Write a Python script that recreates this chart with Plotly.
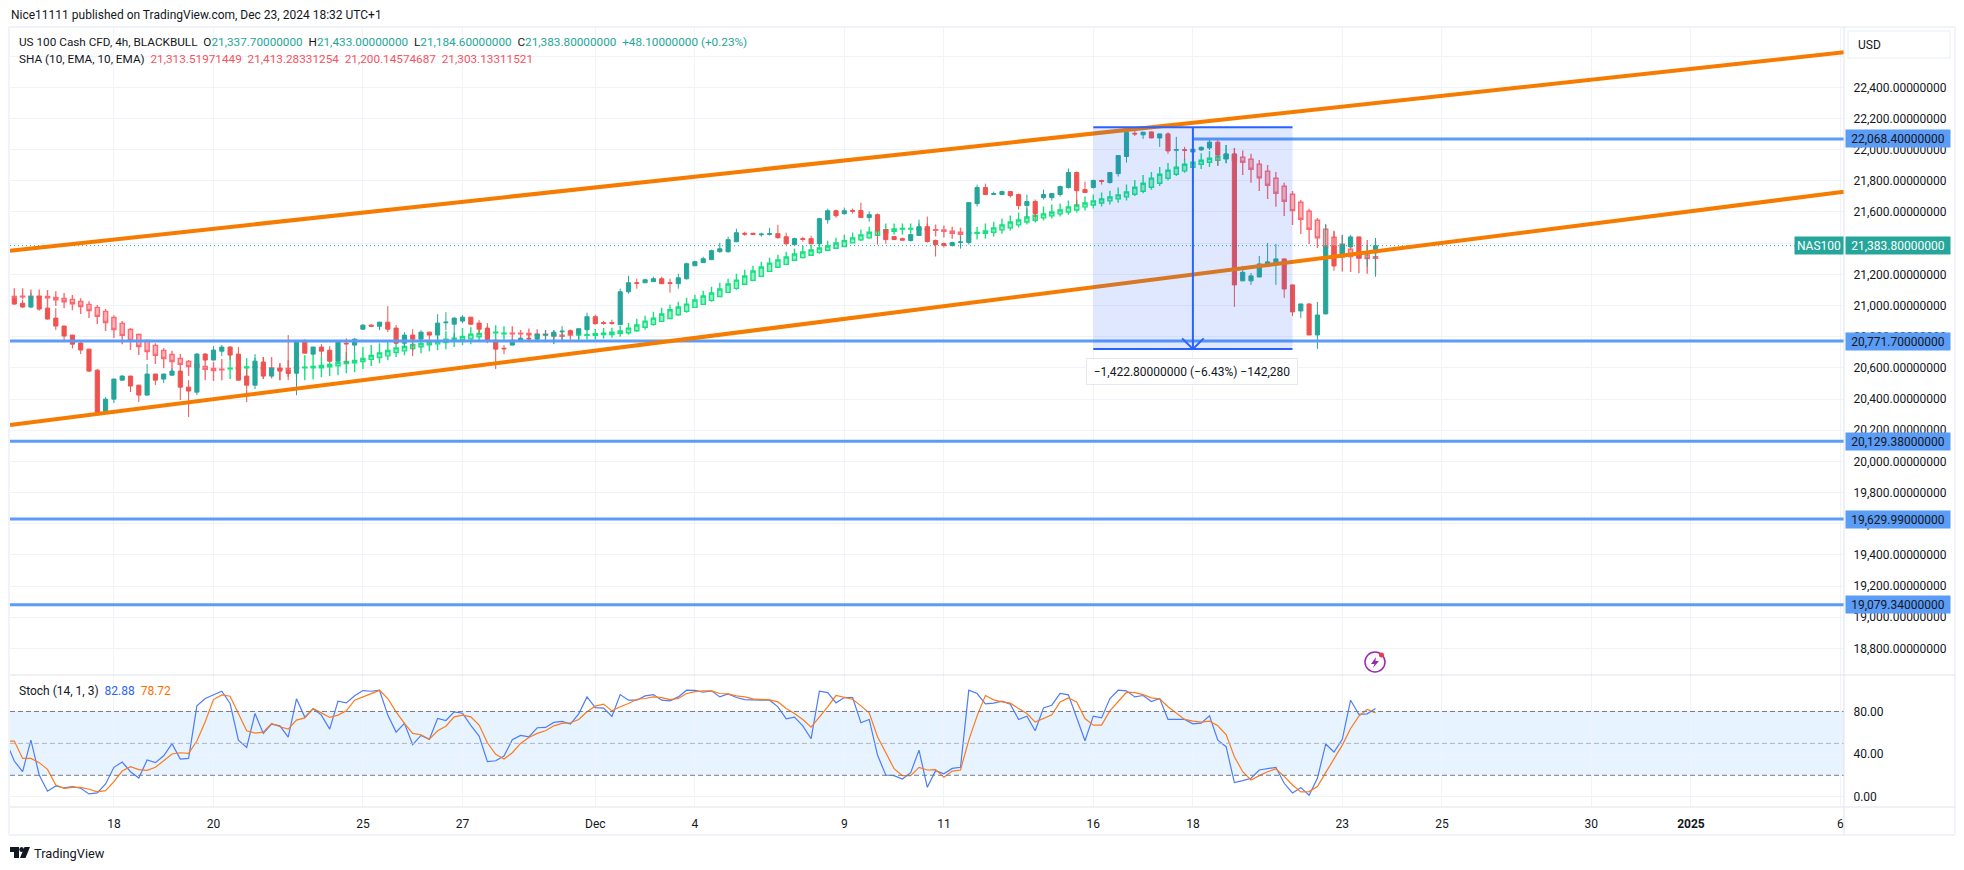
import plotly.graph_objects as go

W, H = 1964, 870

OPEN = [21047,21015,20990,21060,20983,20919,20868,20810,20759,20720,
20585,20316,20399,20521,20547,20489,20425,20560,20528,20553,
20579,20476,20444,20688,20650,20707,20733,20688,20547,20489,
20637,20547,20598,20585,20566,20765,20688,20733,20713,20643,
20758,20746,20848,20874,20867,20893,20855,20758,20810,20784,
20829,20810,20889,20880,20900,20925,20887,20855,20778,20726,
20746,20771,20790,20784,20810,20803,20831,20838,20819,20845,
20928,20890,20890,20877,21088,21146,21146,21153,21172,21146,
21140,21172,21255,21275,21294,21345,21345,21409,21463,21463,
21454,21456,21461,21441,21390,21429,21429,21396,21550,21608,
21589,21609,21609,21564,21583,21487,21442,21429,21417,21449,
21506,21417,21397,21385,21404,21404,21654,21757,21712,21712,
21731,21712,21641,21667,21692,21692,21712,21757,21853,21744,
21757,21802,21789,21846,21956,22105,22095,22114,22075,22101,
21996,22000,21985,21998,22011,22048,21941,21973,21158,21158,
21183,21254,21273,21299,21132,20965,21010,20811,20946,21382,
21312,21376,21440,21340,21337.7]
HIGH = [21056,21035,21084,21060,20985,20983,20870,20812,20765,20722,
20592,20412,20530,20553,20549,20491,20624,20562,20562,20598,
20585,20521,20695,20695,20739,20746,20739,20733,20598,20688,
20669,20602,20630,20810,20771,20784,20735,20752,20739,20778,
20790,20790,20880,20880,20895,20996,20874,20829,20848,20842,
20831,20944,20957,20925,20938,20927,20906,20887,20780,20746,
20780,20792,20816,20820,20842,20842,20867,20845,20853,20954,
20941,20902,20909,21108,21191,21172,21172,21185,21185,21172,
21204,21275,21287,21313,21358,21403,21441,21493,21473,21467,
21467,21499,21518,21467,21435,21441,21448,21563,21621,21615,
21628,21622,21660,21603,21590,21489,21444,21436,21457,21551,
21571,21423,21404,21410,21442,21662,21776,21782,21731,21737,
21733,21718,21712,21680,21744,21720,21769,21879,21859,21795,
21808,21808,21855,21964,22116,22144,22114,22116,22103,22112,
22082,22018,22005,22020,22062,22062,22030,22011,21254,21209,
21318,21402,21395,21301,21134,21012,21014,21023,21523,21474,
21453,21453,21442,21389,21433]
LOW = [21005,20985,20983,20966,20910,20842,20778,20724,20688,20573,
20297,20303,20374,20519,20444,20380,20423,20489,20502,20551,
20393,20284,20425,20648,20648,20675,20650,20519,20380,20464,
20528,20545,20521,20521,20425,20692,20686,20669,20641,20641,
20630,20701,20846,20865,20842,20829,20756,20731,20675,20778,
20756,20778,20842,20778,20887,20874,20816,20758,20592,20688,
20744,20769,20765,20765,20765,20752,20778,20802,20780,20840,
20877,20877,20877,20875,21076,21108,21144,21151,21138,21082,
21108,21165,21253,21273,21292,21339,21339,21407,21448,21454,
21441,21448,21429,21390,21388,21409,21394,21390,21525,21563,
21583,21590,21562,21538,21391,21397,21421,21417,21410,21447,
21404,21314,21372,21378,21365,21391,21635,21710,21710,21710,
21692,21615,21568,21551,21680,21673,21699,21750,21637,21723,
21750,21776,21782,21827,21917,22088,22069,22073,22018,21973,
21934,21934,21960,21992,21998,21896,21913,20991,21156,21132,
21181,21250,21132,21049,20933,20920,20809,20721,20944,21222,
21310,21374,21303,21250,21184.6]
CLOSE = [21009,20990,21056,20977,20913,20868,20804,20752,20714,20579,
20316,20399,20528,20547,20483,20425,20560,20521,20560,20579,
20476,20451,20688,20650,20714,20733,20682,20521,20489,20643,
20547,20598,20579,20564,20765,20694,20733,20707,20643,20765,
20754,20784,20874,20867,20893,20848,20758,20810,20784,20829,
20810,20887,20893,20919,20925,20880,20848,20771,20720,20722,
20778,20790,20786,20816,20814,20829,20835,20819,20851,20928,
20883,20885,20885,21088,21146,21142,21165,21172,21140,21142,
21178,21268,21281,21300,21352,21364,21422,21467,21458,21456,
21458,21461,21435,21396,21429,21424,21396,21557,21608,21576,
21608,21605,21564,21583,21481,21423,21423,21419,21455,21506,
21410,21391,21385,21404,21408,21660,21757,21712,21718,21731,
21705,21641,21667,21590,21712,21718,21763,21853,21737,21725,
21802,21797,21853,21962,22110,22101,22112,22075,22101,21992,
22000,21996,22003,22015,22048,21966,21973,21132,21213,21190,
21267,21280,21299,21106,20959,21010,20811,20939,21376,21254,
21389,21440,21305,21344,21383.8]

SHA_OPEN = [21058,21060,21060,21058,21058,21052,21045,21039,21026,21007,
20988,20962,20923,20885,20846,20814,20776,20744,20712,20686,
20660,20641,20624,20609,20596,20592,20594,20596,20600,20603,
20603,20600,20596,20596,20598,20600,20600,20600,20607,20613,
20628,20632,20641,20654,20666,20677,20698,20709,20724,20735,
20748,20754,20763,20771,20780,20786,20799,20816,20825,20818,
20822,20822,20820,20816,20816,20812,20810,20815,20811,20809,
20808,20813,20813,20821,20825,20838,20860,20879,20898,20917,
20941,20962,20988,21007,21033,21058,21084,21110,21136,21161,
21187,21219,21245,21264,21290,21307,21322,21341,21354,21367,
21379,21402,21421,21434,21451,21466,21476,21490,21490,21489,
21491,21487,21485,21476,21470,21462,21463,21464,21470,21485,
21498,21517,21536,21547,21562,21575,21588,21600,21613,21633,
21645,21658,21671,21684,21697,21714,21733,21759,21784,21816,
21842,21864,21887,21906,21919,21932,21943,21966,21951,21938,
21906,21861,21816,21765,21714,21662,21605,21547,21489,21438,
21393,21361,21335,21325,21313.5]
SHA_HIGH = [21110,21110,21103,21103,21099,21092,21080,21067,21047,21028,
21003,20977,20938,20900,20855,20821,20782,20757,20725,20710,
20688,20650,20658,20650,20639,20656,20682,20660,20662,20665,
20669,20669,20630,20649,20649,20681,20688,20669,20643,20643,
20701,20701,20733,20746,20758,20771,20778,20756,20771,20790,
20778,20803,20835,20823,20855,20861,20861,20867,20874,20867,
20867,20842,20852,20848,20842,20840,20840,20845,20845,20845,
20849,20855,20857,20870,20887,20915,20934,20960,20986,21005,
21024,21050,21069,21095,21121,21146,21172,21204,21230,21255,
21281,21307,21326,21345,21364,21384,21390,21401,21416,21435,
21454,21468,21487,21506,21513,21526,21526,21526,21526,21526,
21526,21519,21513,21506,21500,21496,21506,21526,21538,21558,
21577,21596,21622,21615,21635,21648,21654,21673,21680,21699,
21712,21725,21737,21757,21776,21806,21838,21857,21889,21915,
21934,21941,21966,21977,21992,21998,22030,22011,21994,21973,
21934,21902,21857,21787,21735,21677,21620,21562,21517,21479,
21453,21421,21440,21421,21413.3]
SHA_LOW = [21047,21040,21040,21040,20983,20996,20983,20970,20945,20919,
20881,20836,20791,20752,20714,20682,20650,20624,20598,20579,
20547,20547,20521,20521,20515,20521,20528,20525,20521,20530,
20530,20532,20521,20542,20542,20521,20527,20540,20547,20553,
20566,20572,20592,20611,20630,20649,20669,20681,20707,20694,
20707,20713,20720,20733,20746,20752,20778,20778,20771,20771,
20771,20765,20765,20765,20765,20756,20765,20780,20780,20780,
20780,20789,20793,20800,20813,20832,20845,20870,20894,20913,
20934,20954,20984,21005,21024,21054,21080,21101,21131,21157,
21183,21215,21240,21260,21285,21302,21317,21332,21349,21362,
21375,21397,21414,21429,21444,21444,21455,21455,21461,21470,
21470,21442,21436,21429,21423,21423,21423,21429,21442,21461,
21481,21500,21519,21532,21545,21558,21571,21583,21596,21609,
21622,21635,21648,21660,21673,21703,21720,21742,21767,21802,
21831,21851,21870,21876,21889,21896,21913,21880,21838,21787,
21735,21684,21633,21575,21517,21459,21395,21369,21312,21250,
21218,21215,21207,21203,21200.1]
SHA_CLOSE = [21054,21056,21056,21054,21050,21037,21024,21011,20994,20968,
20930,20891,20846,20808,20776,20737,20705,20680,20660,20641,
20622,20609,20603,20590,20583,20588,20598,20600,20605,20607,
20596,20590,20590,20592,20602,20604,20609,20615,20621,20634,
20641,20647,20660,20679,20696,20711,20728,20737,20750,20756,
20765,20771,20784,20790,20801,20816,20820,20827,20829,20822,
20818,20818,20812,20810,20810,20805,20803,20810,20815,20813,
20819,20823,20828,20836,20855,20875,20900,20919,20945,20973,
20990,21009,21035,21061,21080,21106,21138,21163,21189,21221,
21247,21272,21292,21311,21330,21343,21356,21369,21382,21401,
21416,21434,21453,21470,21479,21487,21491,21494,21494,21493,
21485,21483,21476,21464,21457,21466,21468,21479,21498,21517,
21536,21549,21568,21579,21588,21600,21613,21633,21645,21658,
21671,21684,21697,21710,21729,21759,21784,21817,21842,21868,
21887,21906,21919,21932,21945,21958,21968,21934,21919,21874,
21819,21772,21720,21669,21609,21553,21489,21434,21376,21318,
21312,21314,21305,21301,21303.1]

STOCH_K = [52.0,33.4,23.4,53.1,20.3,5.0,10.0,8.1,9.4,7.8,2.5,3.4,11.9,27.5,32.5,23.4,17.5,34.4,31.9,38.4,49.7,
35.3,35.9,85.3,92.2,95.9,99.0,87.5,53.1,46.2,78.1,59.4,68.1,66.5,55.9,91.9,74.7,82.5,76.6,63.4,89.7,
88.1,94.7,99.7,99.0,100.0,76.6,60.6,68.8,48.8,57.5,53.8,73.4,71.5,79.7,78.4,66.9,56.9,32.8,33.7,38.1,
53.4,57.5,56.2,64.7,65.0,69.7,70.6,68.1,77.8,93.7,83.7,83.1,75.3,95.9,90.6,90.6,94.7,95.9,90.6,90.0,
93.7,100.0,99.9,98.1,99.4,93.7,96.5,93.1,91.2,90.6,90.6,90.6,84.4,73.1,74.7,66.5,54.4,99.0,97.8,88.1,
93.1,93.1,69.4,72.5,39.0,20.3,19.7,16.5,22.5,43.7,8.7,24.4,21.5,26.5,27.5,100.0,96.9,87.2,87.8,89.7,
86.9,72.5,75.6,61.9,83.4,85.9,96.9,95.6,74.4,52.5,75.6,74.0,92.2,100.0,99.4,93.7,95.0,89.4,92.2,72.5,
72.5,72.5,68.4,69.0,75.9,53.1,46.9,13.1,15.0,17.2,25.0,26.2,27.5,12.5,3.4,8.4,1.2,17.2,49.4,41.9,
53.8,90.6,77.2,77.8,82.88]
STOCH_D = [52.2,52.2,35.9,35.9,31.9,25.6,10.9,7.8,8.7,8.7,6.9,4.4,5.6,14.0,24.0,28.1,25.3,24.7,27.5,33.7,40.0,
41.2,40.6,52.2,70.3,91.2,95.6,94.4,78.7,61.9,59.7,60.6,68.8,65.6,63.4,71.9,74.0,82.8,78.7,74.4,76.6,
80.6,90.6,93.7,96.9,99.9,92.2,79.7,68.8,59.4,58.1,53.8,61.9,66.2,75.0,76.6,75.0,67.2,50.6,39.7,35.3,
41.2,50.0,55.6,59.4,61.9,66.5,68.8,69.4,72.5,79.7,85.0,86.9,80.6,84.4,87.5,91.5,92.2,93.7,93.1,91.2,
92.2,96.9,98.7,99.4,99.4,96.9,96.5,94.7,93.7,91.9,91.2,90.9,89.0,82.8,78.1,72.5,65.3,74.4,84.4,95.0,
93.1,91.5,85.3,78.7,56.2,40.6,26.2,19.7,19.7,27.5,25.0,25.3,18.1,24.0,25.0,53.1,75.9,95.0,90.9,89.0,
87.8,82.8,78.1,70.0,73.4,76.9,89.0,92.8,89.0,73.4,67.2,67.2,80.6,89.4,98.1,97.8,95.9,92.8,91.9,84.4,
78.7,72.5,70.9,70.0,70.9,66.5,58.4,37.5,23.4,15.6,19.7,23.4,25.9,19.0,10.9,4.4,4.7,9.4,22.5,35.9,
48.4,64.0,75.6,82.0,78.72]

TICK_POS = [12, 24, 42, 54, 70, 82, 100, 112, 130, 142, 160, 172, 190, 202, 220]
TICK_TEXT = ["18", "20", "25", "27", "Dec", "4", "9", "11", "16", "18", "23", "25", "30", "<b>2025</b>", "6"]
PRICE_TICKS = [18800 + 200 * i for i in range(20)]
STOCH_TICKS = [0, 40, 80]

LAST_PRICE = 21383.8
LEVELS = [20771.7, 20129.38, 19629.99, 19079.34]
RAY_LEVEL = 22068.4
RAY_START = 142
CHANNEL_UPPER = (21351, 22625)
CHANNEL_LOWER = (20233, 21730)
MEASURE_X = (130, 154)
MEASURE_MID = 142
MEASURE_PRICE = (22144, 20721.2)

assert all(len(a) == 165 for a in (OPEN, HIGH, LOW, CLOSE, SHA_OPEN, SHA_HIGH, SHA_LOW, SHA_CLOSE))
assert len(STOCH_K) == 166 and len(STOCH_D) == 166

FONT = "Roboto, sans-serif"
INK = "#131722"
TEAL = "#26A69A"
RED = "#EF5350"
BLUE = "#5B9CF6"
ORANGE = "#F57C00"
DEEP = "#2962FF"
GRID = "#F0F3FA"
SEP = "#E0E3EB"

X_L, X_R = 10, 1844
Y_T, Y_M, Y_B = 27, 675, 807
IDX_L = (X_L - 14.3) / 8.3
IDX_R = (X_R - 14.3) / 8.3


def px(v):
    return v / W


def py(v):
    return 1 - v / H


idx = list(range(165))
fig = go.Figure()
fig.add_trace(go.Candlestick(
    x=idx, open=SHA_OPEN, high=SHA_HIGH, low=SHA_LOW, close=SHA_CLOSE, whiskerwidth=0,
    increasing=dict(line=dict(color="#16E07F", width=1.4), fillcolor="#96F0C4"),
    decreasing=dict(line=dict(color="#FB6A73", width=1.4), fillcolor="#FFB3B8"),
    hoverinfo="skip", showlegend=False, xaxis="x", yaxis="y"))
fig.add_trace(go.Candlestick(
    x=idx, open=OPEN, high=HIGH, low=LOW, close=CLOSE, whiskerwidth=0,
    increasing=dict(line=dict(color=TEAL, width=1), fillcolor=TEAL),
    decreasing=dict(line=dict(color=RED, width=1), fillcolor=RED),
    hoverinfo="skip", showlegend=False, xaxis="x", yaxis="y"))
stoch_x = list(range(-1, 165))
fig.add_trace(go.Scatter(x=stoch_x, y=STOCH_K, mode="lines", line=dict(color="#4C7DF7", width=1.2),
                         hoverinfo="skip", showlegend=False, xaxis="x2", yaxis="y2"))
fig.add_trace(go.Scatter(x=stoch_x, y=STOCH_D, mode="lines", line=dict(color="#FF7A1A", width=1.2),
                         hoverinfo="skip", showlegend=False, xaxis="x2", yaxis="y2"))

shapes = []
shapes.append(dict(type="rect", xref="x2", yref="y2", x0=IDX_L, x1=IDX_R, y0=20, y1=80,
                   fillcolor="rgba(33,150,243,0.11)", line_width=0, layer="below"))
for lvl, col in ((80, "#787B86"), (50, "#B2B5BE"), (20, "#787B86")):
    shapes.append(dict(type="line", xref="x2", yref="y2", x0=IDX_L, x1=IDX_R, y0=lvl, y1=lvl,
                       line=dict(color=col, width=1, dash="5px,3px")))
shapes.append(dict(type="line", xref="paper", yref="y", x0=px(X_L), x1=px(1796), y0=LAST_PRICE, y1=LAST_PRICE,
                   line=dict(color=TEAL, width=1, dash="1px,3px")))
for lvl in LEVELS:
    shapes.append(dict(type="line", xref="x", yref="y", x0=IDX_L, x1=IDX_R, y0=lvl, y1=lvl,
                       line=dict(color=BLUE, width=3)))
shapes.append(dict(type="line", xref="x", yref="y", x0=RAY_START, x1=IDX_R, y0=RAY_LEVEL, y1=RAY_LEVEL,
                   line=dict(color=BLUE, width=3)))
for a, b in (CHANNEL_UPPER, CHANNEL_LOWER):
    shapes.append(dict(type="line", xref="x", yref="y", x0=IDX_L, x1=IDX_R, y0=a, y1=b,
                       line=dict(color=ORANGE, width=4)))
shapes.append(dict(type="rect", xref="x", yref="y", x0=MEASURE_X[0], x1=MEASURE_X[1],
                   y0=MEASURE_PRICE[1], y1=MEASURE_PRICE[0], fillcolor="rgba(41,98,255,0.15)", line_width=0))
for p in MEASURE_PRICE:
    shapes.append(dict(type="line", xref="x", yref="y", x0=MEASURE_X[0], x1=MEASURE_X[1], y0=p, y1=p,
                       line=dict(color=DEEP, width=2)))
shapes.append(dict(type="line", xref="x", yref="y", x0=MEASURE_MID, x1=MEASURE_MID,
                   y0=MEASURE_PRICE[0], y1=MEASURE_PRICE[1], line=dict(color=DEEP, width=2)))
for side in (-1.3, 1.3):
    shapes.append(dict(type="line", xref="x", yref="y", x0=MEASURE_MID + side, x1=MEASURE_MID,
                       y0=MEASURE_PRICE[1] + 68, y1=MEASURE_PRICE[1], line=dict(color=DEEP, width=2)))
frame = "#F0F3FA"
for x0, x1, y0, y1, c, w in ((9, 9, 27, 835, frame, 2), (1955, 1955, 27, 835, frame, 2),
                             (9, 1955, 27, 27, frame, 2), (9, 1955, 835, 835, frame, 2),
                             (10, 1955, Y_M, Y_M, SEP, 1), (10, 1955, Y_B, Y_B, SEP, 1),
                             (X_R, X_R, 27, 835, SEP, 1)):
    shapes.append(dict(type="line", xref="paper", yref="paper", x0=px(x0), x1=px(x1), y0=py(y0), y1=py(y1),
                       line=dict(color=c, width=w)))


def pth(d, fill=None, line=None, lw=1.5):
    return dict(type="path", xref="paper", yref="paper", path=d, fillcolor=fill or "rgba(0,0,0,0)",
                line=dict(color=line or "rgba(0,0,0,0)", width=lw if line else 0))


def P(*pts):
    return "M " + " L ".join(f"{px(a):.6f},{py(b):.6f}" for a, b in pts) + " Z"


shapes.append(dict(type="rect", xref="paper", yref="paper", x0=px(1848), x1=px(1950), y0=py(58), y1=py(31),
                   fillcolor="white", line=dict(color="#F0F3FA", width=1.5)))
shapes.append(pth(P((10, 847), (19, 847), (19, 858), (14, 858), (14, 852), (10, 852)), fill="#131722"))
shapes.append(pth(P((30, 847), (25.5, 858), (20, 858), (24.5, 847)), fill="#131722"))
shapes.append(dict(type="circle", xref="paper", yref="paper", x0=px(19.3), x1=px(24), y0=py(852), y1=py(847),
                   fillcolor="#131722", line_width=0))
shapes.append(dict(type="circle", xref="paper", yref="paper", x0=px(1365), x1=px(1385), y0=py(672), y1=py(652),
                   fillcolor="white", line=dict(color="#9C27B0", width=1.5)))
shapes.append(pth(P((1376, 657), (1371, 664), (1374.5, 664), (1373, 668), (1379, 661), (1375.5, 661)), fill="#9C27B0"))
shapes.append(dict(type="circle", xref="paper", yref="paper", x0=px(1379), x1=px(1384), y0=py(657.5), y1=py(652.5),
                   fillcolor="#F23645", line_width=0))


def label(x, y, text, size=12, color=INK, anchor="left", **kw):
    return dict(xref="paper", yref="paper", x=px(x), y=py(y), text=text, showarrow=False, xanchor=anchor,
                yanchor="middle", font=dict(family=FONT, size=size, color=color), borderpad=0, **kw)


def badge(value, text, bg=BLUE, color=INK):
    return dict(xref="paper", yref="y", x=px(1845), y=value, text=text, showarrow=False, xanchor="left",
                yanchor="middle", width=104, height=17, align="center", bgcolor=bg, borderpad=0,
                font=dict(family=FONT, size=12, color=color))


def money(v):
    return f"{v:,.8f}"


def sp(color, t):
    return f'<span style="color:{color}">{t}</span>'


NB = "\u00a0"
SHA_VALUES = ["21,313.51971449", "21,413.28331254", "21,200.14574687", "21,303.13311521"]
annotations = [
    label(10, 15, "Nice11111 published on TradingView.com, Dec 23, 2024 18:32 UTC+1", 12),
    label(18, 42, "US 100 Cash CFD, 4h, BLACKBULL" + NB + NB + "O" + sp(TEAL, money(OPEN[-1]))
          + NB + NB + "H" + sp(TEAL, money(HIGH[-1])) + NB + NB + "L" + sp(TEAL, money(LOW[-1]))
          + NB + NB + "C" + sp(TEAL, money(CLOSE[-1])) + NB + NB + sp(TEAL, "+48.10000000 (+0.23%)"), 11.75),
    label(18, 59, "SHA (10, EMA, 10, EMA)" + NB + NB + sp("#F7525F", (NB + NB).join(SHA_VALUES)), 11.75),
    label(18, 691, "Stoch (14, 1, 3)" + NB + NB + sp("#2962FF", "82.88") + NB + NB + sp("#FF6D00", "78.72"), 12),
    label(1857, 44.5, "USD", 12),
    label(33, 853, "TradingView", 12.8),
    badge(RAY_LEVEL, money(RAY_LEVEL)),
]
for lvl in LEVELS:
    annotations.append(badge(lvl, money(lvl)))
annotations.append(badge(LAST_PRICE, money(LAST_PRICE), bg=TEAL, color="white"))
annotations.append(dict(xref="paper", yref="y", x=px(1844), y=LAST_PRICE, text="NAS100", showarrow=False,
                        xanchor="right", yanchor="middle", width=48, height=17, bgcolor=TEAL, borderpad=0,
                        font=dict(family=FONT, size=12, color="white")))
annotations.append(dict(xref="paper", yref="paper", x=px(1192), y=py(371.5), text="\u22121,422.80000000 (\u22126.43%) \u2212142,280",
                        showarrow=False, xanchor="center", yanchor="middle", width=210, height=25, bgcolor="white",
                        bordercolor="#E6E8EE", borderwidth=1, borderpad=0, font=dict(family=FONT, size=12, color=INK)))

x_common = dict(type="linear", range=[IDX_L, IDX_R], tickmode="array", tickvals=TICK_POS, showgrid=True,
                gridcolor=GRID, gridwidth=1, zeroline=False, showline=False,
                domain=[px(X_L), px(X_R)], fixedrange=True)
fig.update_layout(
    width=W, height=H, autosize=False, margin=dict(l=0, r=0, t=0, b=0),
    paper_bgcolor="white", plot_bgcolor="white", boxmode="overlay", boxgap=0.5, boxgroupgap=0, showlegend=False,
    font=dict(family=FONT, size=12, color=INK),
    xaxis=dict(**x_common, showticklabels=False, anchor="y", rangeslider=dict(visible=False)),
    xaxis2=dict(**x_common, ticktext=TICK_TEXT, showticklabels=True, anchor="y2",
                ticks="outside", ticklen=6, tickcolor="rgba(0,0,0,0)", tickfont=dict(family=FONT, size=12, color=INK)),
    yaxis=dict(domain=[py(Y_M), py(Y_T)], range=[18629, 22787], side="right", tickmode="array", tickvals=PRICE_TICKS,
               ticktext=[f"{v:,.8f}" if v < 22600 else "" for v in PRICE_TICKS], showgrid=True, gridcolor=GRID,
               zeroline=False, showline=False, ticks="outside", ticklen=6, tickcolor="rgba(0,0,0,0)",
               tickfont=dict(family=FONT, size=12, color=INK), anchor="x", fixedrange=True),
    yaxis2=dict(domain=[py(Y_B), py(Y_M)], range=[-9.8, 114.3], side="right", tickmode="array", tickvals=STOCH_TICKS,
                ticktext=[f"{v:.2f}" for v in STOCH_TICKS], showgrid=True, gridcolor=GRID, zeroline=False,
                showline=False, ticks="outside", ticklen=6, tickcolor="rgba(0,0,0,0)",
                tickfont=dict(family=FONT, size=12, color=INK), anchor="x2", fixedrange=True),
    shapes=shapes, annotations=annotations,
)
fig.write_html("out.html", config=dict(displayModeBar=False), post_script="document.body.style.margin='0';")
